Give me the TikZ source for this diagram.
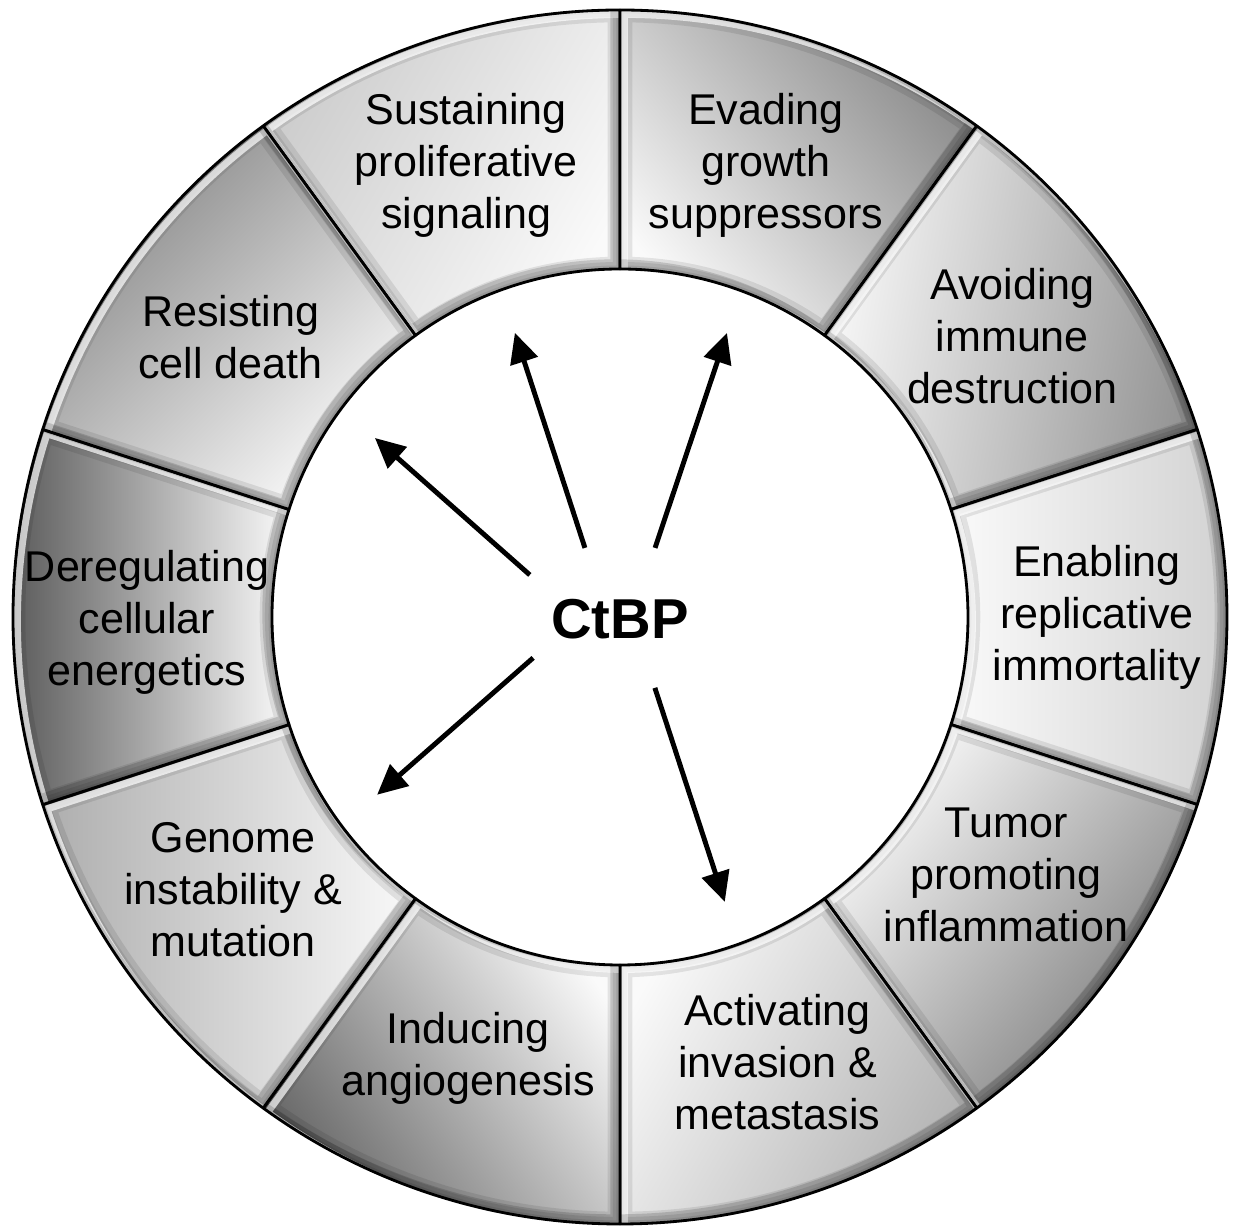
\documentclass[tikz,border=0pt]{standalone}
\usepackage{fontspec}
\setmainfont{Liberation Sans}
\usetikzlibrary{arrows.meta, positioning}

\begin{document}
\begin{tikzpicture}[
  sector/.style={
    insert path={(#1-18:6.96) arc[start angle=#1-18, end angle=#1+18, radius=6.96]
      -- (#1+18:12.14) arc[start angle=#1+18, end angle=#1-18, radius=12.14] -- cycle}
  },
  rim/.style={draw=black, line width=#1, draw opacity=0.09},
  hallmark/.style={
    align=center, inner sep=0pt,
    font=\fontsize{24.5}{29.6}\selectfont
  },
  hub/.style={font=\fontsize{32}{38}\selectfont\bfseries, inner sep=0pt},
  arrow/.style={
    -{Triangle[length=6mm, width=5.6mm]},
    line width=2.8pt
  }
]

\fill[white] (-12.4,-12.18) rectangle (12.3,12.34);
\useasboundingbox (-12.4,-12.18) rectangle (12.3,12.34);

% ring of ten bevelled segments: centre angle / darkness / dark side
\foreach \a/\dk/\dir in {108/20/150, 72/46/40, 36/42/-10, 0/18/0, -36/52/-40,
                          -72/30/-30, -108/60/215, -144/32/180, 180/66/180, 144/48/135} {
  \begin{scope}
    \clip[sector=\a];
    \shade[top color=black!\dk, bottom color=black!2, shading angle=\dir-90, sector=\a];
    % soft inner edge
    \draw[rim=14pt, sector=\a];
    \draw[rim=8pt, sector=\a];
    \draw[rim=4pt, sector=\a];
    % light and shadow of the bevel
    \draw[xshift=2.5pt, yshift=-2.5pt, white, line width=4pt, opacity=0.7, sector=\a];
    \draw[xshift=-2.5pt, yshift=2.5pt, black, line width=6pt, opacity=0.15, sector=\a];
  \end{scope}
  \draw[line width=1.6pt, line join=round, sector=\a];
}

% hallmark labels
\node[hallmark] (sustain)  at (108.8:9.55)  {Sustaining\\proliferative\\signaling};
\node[hallmark] (evade)    at (72.1:9.50)   {Evading\\growth\\suppressors};
\node[hallmark] (immune)   at (35.6:9.65)   {Avoiding\\immune\\destruction};
\node[hallmark] (immortal) at (0:9.54)      {Enabling\\replicative\\immortality};
\node[hallmark] (inflame)  at (-33.8:9.29)  {Tumor\\promoting\\inflammation};
\node[hallmark] (invade)   at (-70.5:9.44)  {Activating\\invasion \&\\metastasis};
\node[hallmark] (angio)    at (-109:9.33)   {Inducing\\angiogenesis};
\node[hallmark] (genome)   at (-144.8:9.47) {Genome\\instability \&\\mutation};
\node[hallmark] (energy)   at (180.6:9.46)  {Deregulating\\cellular\\energetics};
\node[hallmark] (death)    at (144.3:9.59)  {Resisting\\cell death};

\node[hub] (ctbp) at (0,-0.04) {CtBP};

% arrows out of the hub: tail angle / radius / head angle / radius
\foreach \ta/\tr/\ha/\hr [count=\i] in {155/1.99/143.85/6.07, 116.9/1.55/110.3/6.06,
                                         63.1/1.55/69.36/6.07, 205.2/1.92/216.2/6.02,
                                         -63.8/1.58/-69.8/6.07} {
  \coordinate (tail\i) at (\ta:\tr);
  \coordinate (head\i) at (\ha:\hr);
  \draw[arrow] (tail\i) -- (head\i);
}

\end{tikzpicture}
\end{document}
